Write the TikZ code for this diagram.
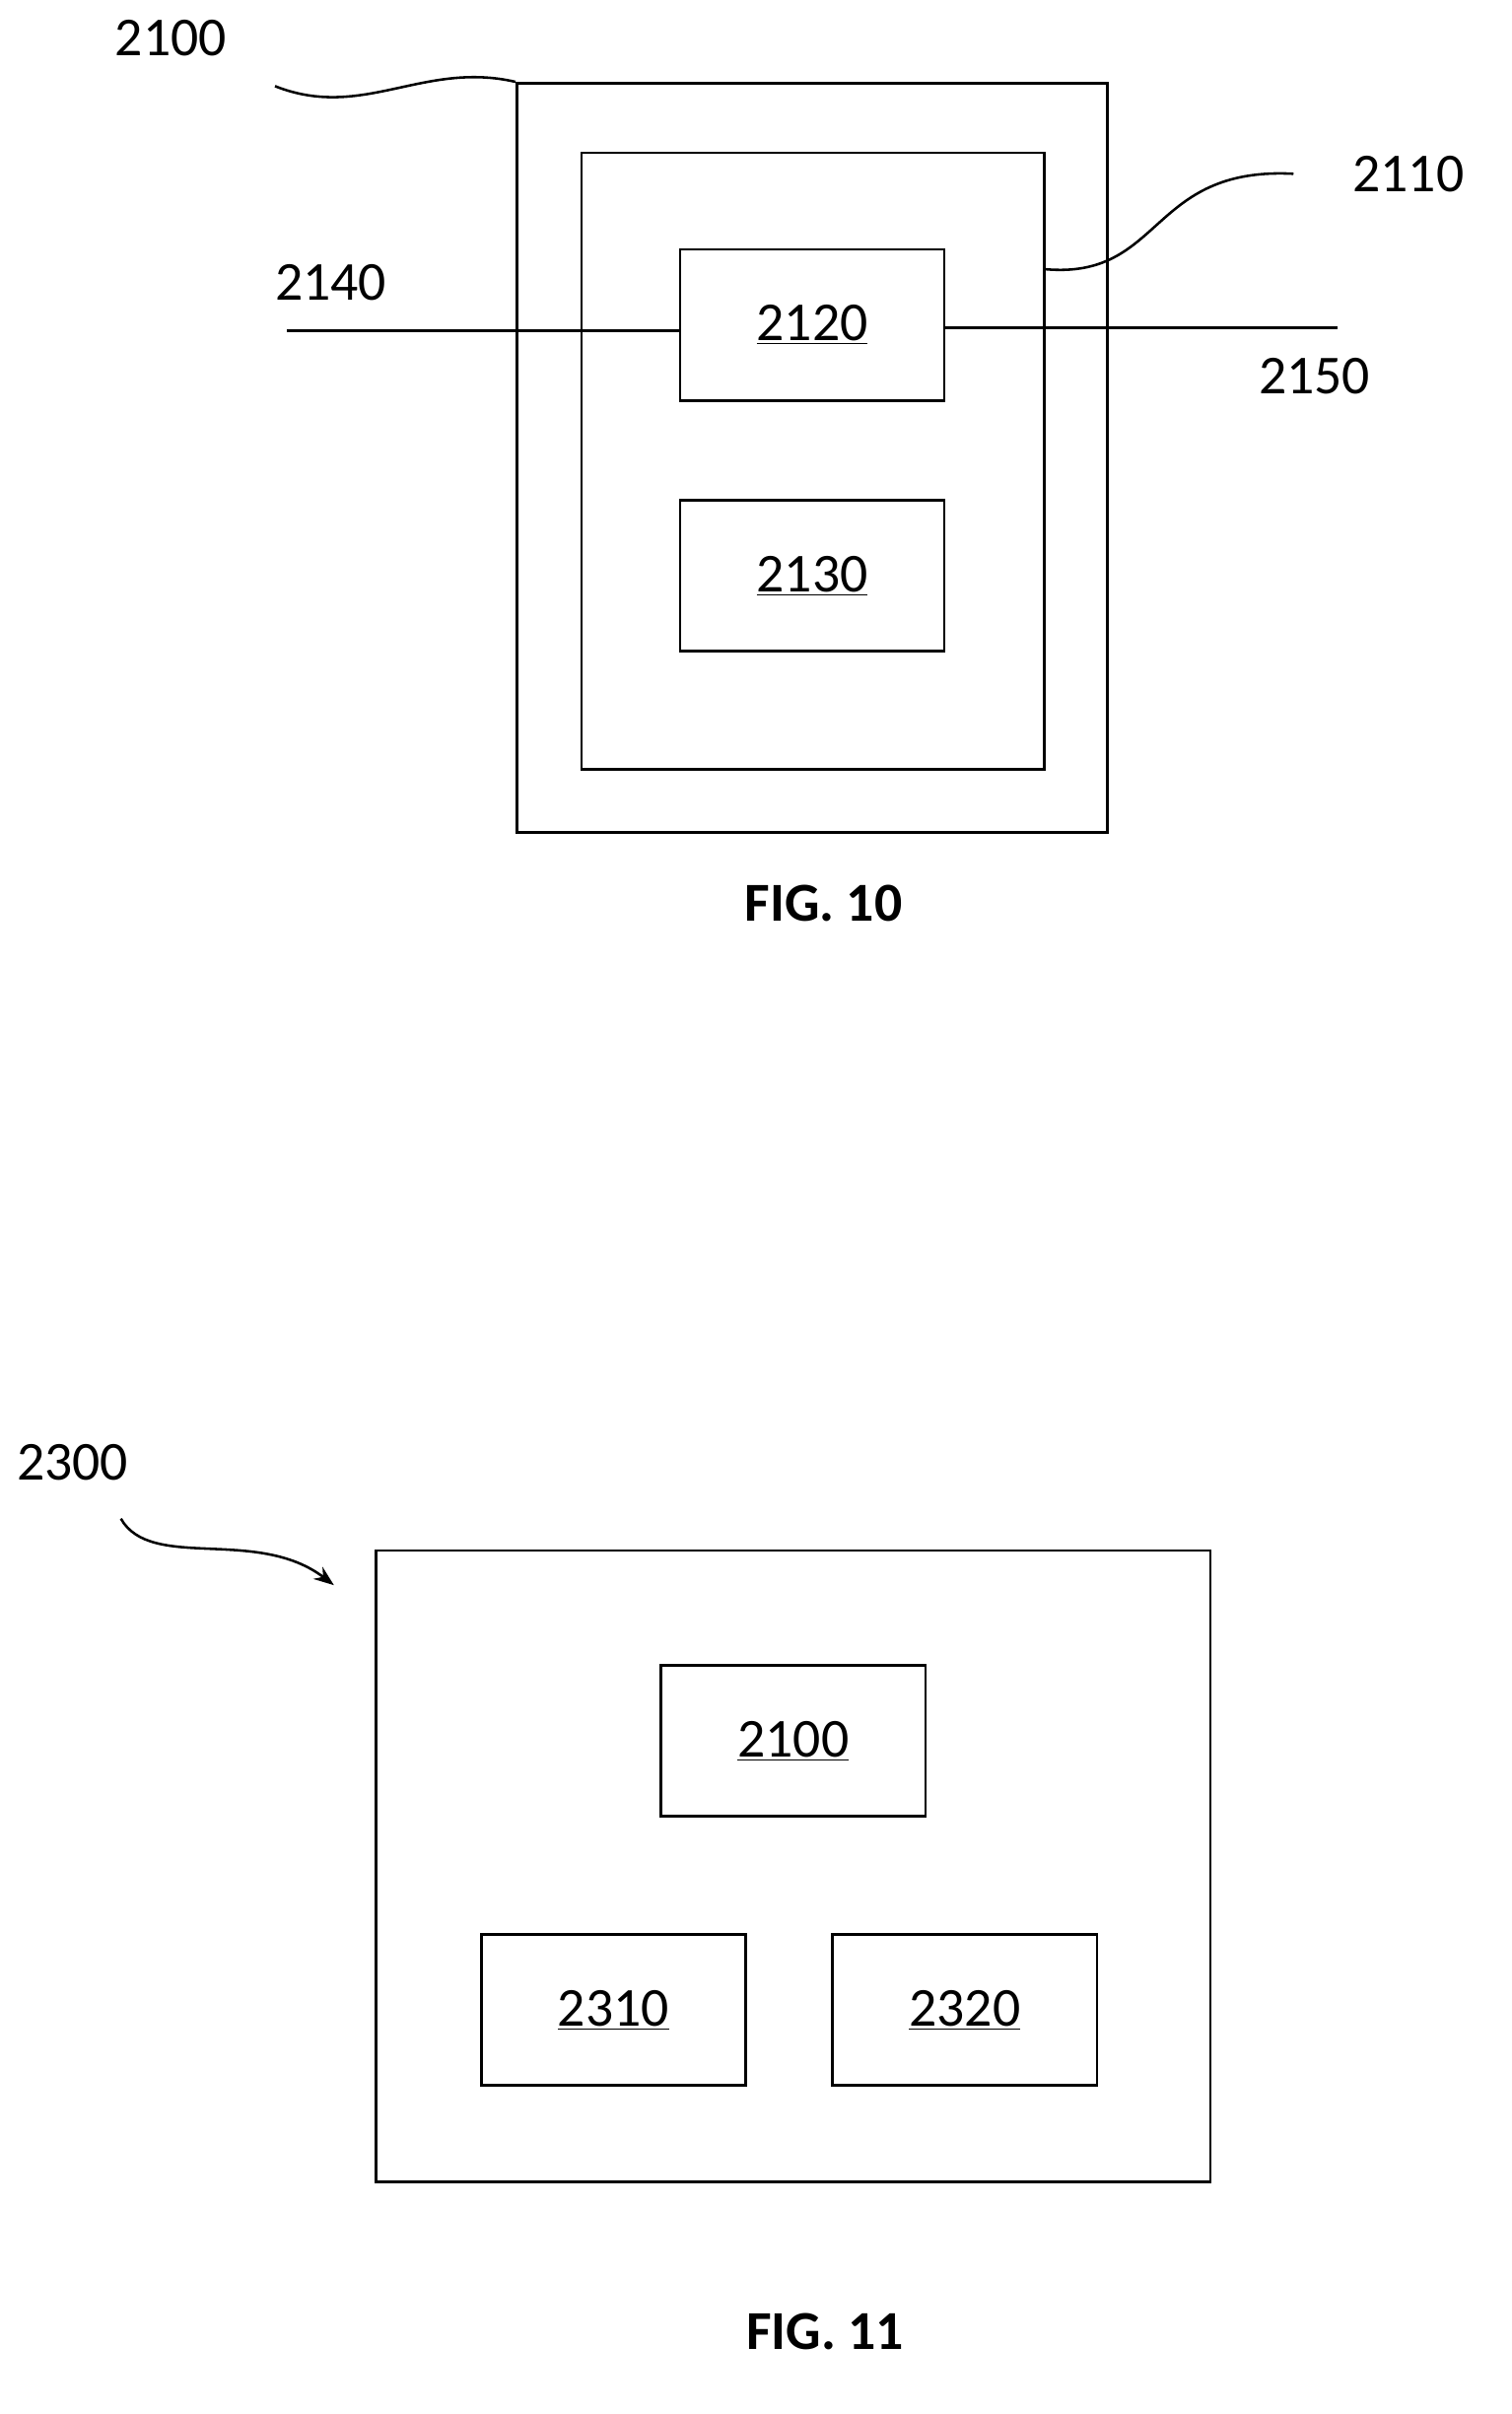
\documentclass[tikz,border=0pt]{standalone}
\usepackage{fontspec}
\setmainfont{Carlito}
\usetikzlibrary{arrows.meta,positioning,calc}
\tikzset{
  font={\fontsize{31pt}{36}\selectfont}}

\begin{document}
\begin{tikzpicture}[x=0.03cm,y=-0.03cm,
    block_frame/.style ={rectangle, draw=black, line width=0.5mm, inner sep=0pt},
    block_center/.style ={rectangle, draw=black, line width=0.5mm,
      minimum width=5.25cm, minimum height=3cm, text centered},
    block_clear/.style ={draw=none, inner sep=0pt},
    leader/.style ={draw, line width=0.5mm},
    fig_title/.style ={draw=none, font={\fontsize{31pt}{36}\selectfont\bfseries}}]
    \useasboundingbox (0,0) rectangle (1000,1597.5);
    % FIG. 10
    \node[block_frame, minimum width=11.73cm, minimum height=14.88cm] (b2100) at (537.5,303) {};
    \node[block_frame, minimum width=9.18cm, minimum height=12.24cm] (b2110) at (538,305) {};
    \node[block_center] (b2120) at (537.5,215) {\underline{2120}};
    \node[block_center] (b2130) at (537.5,381) {\underline{2130}};
    \node[block_clear] (l2100) at (113,25) {2100};
    \node[block_clear] (l2110) at (932,115) {2110};
    \node[block_clear] (l2140) at (219,187) {2140};
    \node[block_clear] (l2150) at (870,249) {2150};
    \coordinate (in2140) at (190,219);
    \coordinate (out2150) at (885,217);
    \coordinate (w2100) at (182,57);
    \coordinate (w2110) at (856,115);
    \path[leader] (in2140) -- (in2140 -| b2120.west);
    \path[leader] (out2150 -| b2120.east) -- (out2150);
    \path[leader] (w2100) .. controls (240,80) and (280,40) .. (b2100.north west);
    \path[leader] (w2110) .. controls (760,110) and (770,185) .. ($(b2110.north east)+(0,78)$);
    \node[fig_title] (f10) at (545,598) {FIG. 10};
    % FIG. 11
    \node[block_frame, minimum width=16.56cm, minimum height=12.54cm] (b2300) at (525,1235) {};
    \node[block_center] (b2100b) at (525,1152) {\underline{2100}};
    \node[block_center] (b2310) at (406,1330) {\underline{2310}};
    \node[block_center] (b2320) at (638.5,1330) {\underline{2320}};
    \node[block_clear] (l2300) at (48,968) {2300};
    \coordinate (w2300) at (80,1005);
    \coordinate (t2300) at (221,1049);
    \path[leader, -{Stealth[length=4mm,width=3mm]}] (w2300) .. controls (100,1040) and (170,1010) .. (t2300);
    \node[fig_title] (f11) at (546,1543) {FIG. 11};
\end{tikzpicture}
\end{document}
